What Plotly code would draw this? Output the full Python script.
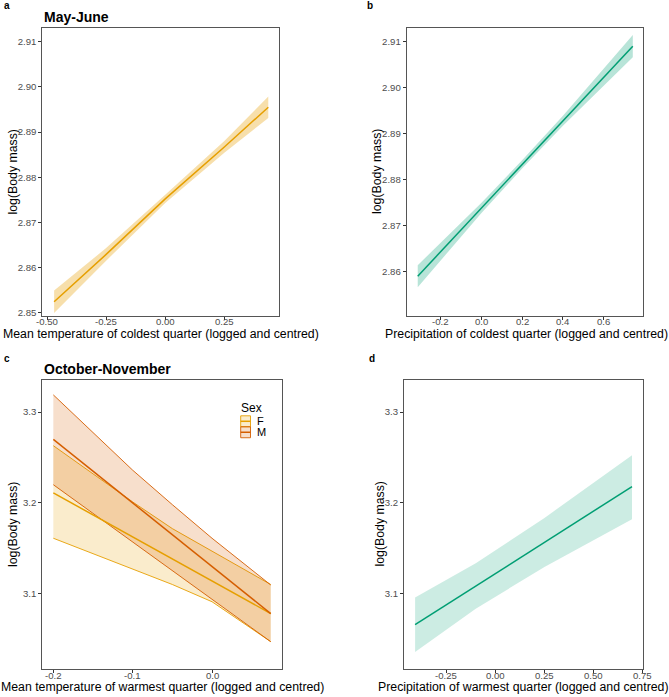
import plotly.graph_objects as go

# ---------------- data ----------------
# panel a: May-June, mean temperature of coldest quarter
a_x = [-0.47, -0.25, 0.0, 0.25, 0.436]
a_fit = [2.8524, 2.8629, 2.8752, 2.8867, 2.8955]
a_hi = [2.8549, 2.8643, 2.8761, 2.8880, 2.8979]
a_lo = [2.8499, 2.8615, 2.8743, 2.8854, 2.8931]

# panel b: May-June, precipitation of coldest quarter
b_x = [-0.311, 0.0, 0.2, 0.4, 0.742]
b_fit = [2.8590, 2.8738, 2.8833, 2.8928, 2.9090]
b_hi = [2.8614, 2.8749, 2.8842, 2.8939, 2.9114]
b_lo = [2.8566, 2.8727, 2.8824, 2.8917, 2.9066]

# panel c: October-November, mean temperature of warmest quarter, by sex
c_x = [-0.2, -0.1, -0.05, 0.0, 0.074]
c_F_fit = [3.211, 3.1625, 3.1383, 3.1139, 3.078]
c_F_hi = [3.263, 3.201, 3.1716, 3.1467, 3.110]
c_F_lo = [3.161, 3.127, 3.110, 3.091, 3.047]
c_M_fit = [3.270, 3.1999, 3.1649, 3.1299, 3.078]
c_M_hi = [3.319, 3.236, 3.198, 3.161, 3.1095]
c_M_lo = [3.220, 3.1569, 3.1253, 3.0937, 3.047]

# panel d: October-November, precipitation of warmest quarter
d_x = [-0.409, -0.1, 0.25, 0.696]
d_fit = [3.0657, 3.1083, 3.1564, 3.2179]
d_hi = [3.0957, 3.1333, 3.1834, 3.2526]
d_lo = [3.0357, 3.0833, 3.1294, 3.1818]

# tick labels
a_xticks = [-0.5, -0.25, 0.0, 0.25]
a_xlabels = ["-0.50", "-0.25", "0.00", "0.25"]
a_yticks = [2.85, 2.86, 2.87, 2.88, 2.89, 2.90, 2.91]
a_ylabels = ["2.85", "2.86", "2.87", "2.88", "2.89", "2.90", "2.91"]
b_xticks = [-0.2, 0.0, 0.2, 0.4, 0.6]
b_xlabels = ["-0.2", "0.0", "0.2", "0.4", "0.6"]
b_yticks = [2.86, 2.87, 2.88, 2.89, 2.90, 2.91]
b_ylabels = ["2.86", "2.87", "2.88", "2.89", "2.90", "2.91"]
c_xticks = [-0.2, -0.1, 0.0]
c_xlabels = ["-0.2", "-0.1", "0.0"]
cd_yticks = [3.1, 3.2, 3.3]
cd_ylabels = ["3.1", "3.2", "3.3"]
d_xticks = [-0.25, 0.0, 0.25, 0.5, 0.75]
d_xlabels = ["-0.25", "0.00", "0.25", "0.50", "0.75"]

sexes = ["F", "M"]

# ---------------- style ----------------
ORANGE = "#E69F00"
DARKOR = "#D55E00"
GREEN = "#009E73"
FONT = "Liberation Sans, Arial, sans-serif"
W, H = 669, 697


def rgba(hexc, a):
    h = hexc.lstrip("#")
    return "rgba(%d,%d,%d,%s)" % (int(h[0:2], 16), int(h[2:4], 16), int(h[4:6], 16), a)


def px(x0, x1):
    return [x0 / W, x1 / W]


def py(top, bottom):
    return [1 - bottom / H, 1 - top / H]


fig = go.Figure()


def band(x, lo, hi, color, alpha, ax, edge=False):
    xs = list(x) + list(x)[::-1]
    ys = list(hi) + list(lo)[::-1]
    fig.add_trace(go.Scatter(x=xs, y=ys, fill="toself", fillcolor=rgba(color, alpha),
                             line=dict(width=0), mode="lines", hoverinfo="skip",
                             showlegend=False, xaxis="x" + ax, yaxis="y" + ax))
    if edge:
        for yy in (hi, lo):
            fig.add_trace(go.Scatter(x=x, y=yy, mode="lines", line=dict(color=color, width=0.9),
                                     hoverinfo="skip", showlegend=False,
                                     xaxis="x" + ax, yaxis="y" + ax))


def line(x, y, color, ax, name=None):
    fig.add_trace(go.Scatter(x=x, y=y, mode="lines", line=dict(color=color, width=1.5),
                             name=name, showlegend=False, xaxis="x" + ax, yaxis="y" + ax))


# panel a
band(a_x, a_lo, a_hi, ORANGE, 0.33, "")
line(a_x, a_fit, ORANGE, "")
# panel b
band(b_x, b_lo, b_hi, GREEN, 0.28, "2")
line(b_x, b_fit, GREEN, "2")
# panel c
c_data = {"F": (c_F_lo, c_F_hi, c_F_fit, ORANGE), "M": (c_M_lo, c_M_hi, c_M_fit, DARKOR)}
for s in sexes:
    lo, hi, fit, col = c_data[s]
    band(c_x, lo, hi, col, 0.2, "3", edge=True)
for s in sexes:
    lo, hi, fit, col = c_data[s]
    line(c_x, fit, col, "3", name=s)
# panel d
band(d_x, d_lo, d_hi, GREEN, 0.2, "4")
line(d_x, d_fit, GREEN, "4")

tickfont = dict(family=FONT, size=9.6, color="#4D4D4D")
titlefont = dict(family=FONT, size=12.3, color="#000000")


def xax(dom, rng, tv, anchor):
    # frame + tick marks; the x tick labels are placed as annotations below
    return dict(domain=dom, range=rng, tickvals=tv, anchor=anchor,
                showgrid=False, zeroline=False, showline=True, mirror=True,
                linecolor="#555555", linewidth=1, ticks="outside", ticklen=3,
                tickcolor="#333333", tickwidth=0.8, showticklabels=False)


def yax(dom, rng, tv, tt, anchor):
    return dict(domain=dom, range=rng, tickvals=tv, ticktext=tt, anchor=anchor,
                showgrid=False, zeroline=False, showline=True, mirror=True,
                linecolor="#555555", linewidth=1, ticks="outside", ticklen=3,
                tickcolor="#333333", tickwidth=0.8, tickfont=tickfont)


top_y = py(28.3, 316.7)
bot_y = py(381, 671)

fig.update_layout(
    width=W, height=H, margin=dict(l=0, r=0, t=0, b=0),
    paper_bgcolor="white", plot_bgcolor="white",
    font=dict(family=FONT),
    xaxis=xax(px(42.3, 278.7), [-0.520, 0.480], a_xticks, "y"),
    yaxis=yax(top_y, [2.8493, 2.9130], a_yticks, a_ylabels, "x"),
    xaxis2=xax(px(406.7, 643), [-0.365, 0.792], b_xticks, "y2"),
    yaxis2=yax(top_y, [2.8504, 2.9129], b_yticks, b_ylabels, "x2"),
    xaxis3=xax(px(42.3, 282), [-0.2139, 0.0882], c_xticks, "y3"),
    yaxis3=yax(bot_y, [3.0168, 3.3355], cd_yticks, cd_ylabels, "x3"),
    xaxis4=xax(px(404, 643), [-0.4655, 0.752], d_xticks, "y4"),
    yaxis4=yax(bot_y, [3.0168, 3.3355], cd_yticks, cd_ylabels, "x4"),
    showlegend=False,
)

# x tick labels, positioned through each panel's x axis
for xref, tv, tt, cy in [("x", a_xticks, a_xlabels, 322.6), ("x2", b_xticks, b_xlabels, 322.6),
                         ("x3", c_xticks, c_xlabels, 677.4), ("x4", d_xticks, d_xlabels, 677.4)]:
    for v, t in zip(tv, tt):
        fig.add_annotation(x=v, y=1 - cy / H, xref=xref, yref="paper", text=t,
                           showarrow=False, xanchor="center", yanchor="middle", font=tickfont,
                           borderpad=0)

# axis titles
xtitles = [
    ("Mean temperature of coldest quarter (logged and centred)", 160.5, 334.8),
    ("Precipitation of coldest quarter (logged and centred)", 526, 334.8),
    ("Mean temperature of warmest quarter (logged and centred)", 162.1, 689),
    ("Precipitation of warmest quarter (logged and centred)", 523.5, 689),
]
for txt, cx, cy in xtitles:
    fig.add_annotation(x=cx / W, y=1 - cy / H, xref="paper", yref="paper", text=txt,
                       showarrow=False, xanchor="center", yanchor="middle", font=titlefont,
                       borderpad=0)
ytitles = [(13.5, 172.5), (377, 172.5), (13.5, 526), (380, 526)]
for cx, cy in ytitles:
    fig.add_annotation(x=cx / W, y=1 - cy / H, xref="paper", yref="paper", text="log(Body mass)",
                       textangle=-90, showarrow=False, xanchor="center", yanchor="middle",
                       font=titlefont, borderpad=0)

# panel letters and titles
ann = [
    ("a", 2, 6, 10), ("b", 365, 6, 10), ("c", 2, 360, 10), ("d", 367, 360, 10),
    ("May-June", 42, 17, 14), ("October-November", 42, 370, 14),
]
for txt, x0, y0, size in ann:
    fig.add_annotation(x=x0 / W, y=1 - y0 / H, xref="paper", yref="paper", text=("<b>%s</b>" % txt),
                       showarrow=False, xanchor="left", yanchor="middle",
                       font=dict(family=FONT, size=size, color="#000000"))

# legend for panel c (Sex)
fig.add_annotation(x=239 / W, y=1 - 409 / H, xref="paper", yref="paper", text="Sex",
                   showarrow=False, xanchor="left", yanchor="middle",
                   font=dict(family=FONT, size=12, color="#000000"))
key_top = [417, 428]
for s, kt in zip(sexes, key_top):
    col = c_data[s][3]
    x0, x1 = 240.7 / W, 250.5 / W
    y0, y1 = 1 - (kt + 11) / H, 1 - kt / H
    fig.add_shape(type="rect", xref="paper", yref="paper", x0=x0, x1=x1, y0=y0, y1=y1,
                  fillcolor=rgba(col, 0.2), line=dict(color=col, width=0.9))
    fig.add_shape(type="line", xref="paper", yref="paper", x0=x0, x1=x1,
                  y0=(y0 + y1) / 2, y1=(y0 + y1) / 2, line=dict(color=col, width=1.5))
    fig.add_annotation(x=255 / W, y=1 - (kt + 5.5) / H, xref="paper", yref="paper", text=s,
                       showarrow=False, xanchor="left", yanchor="middle",
                       font=dict(family=FONT, size=11, color="#000000"))

fig.write_html("out.html")
